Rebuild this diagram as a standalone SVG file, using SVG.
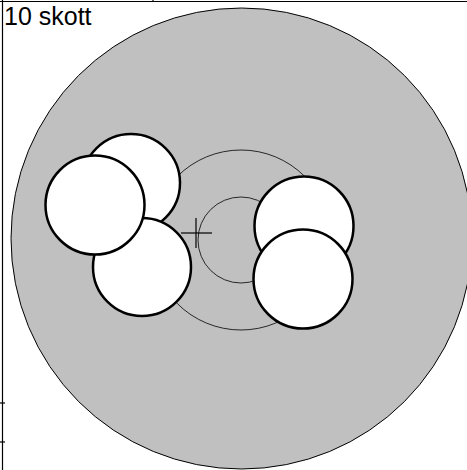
<svg xmlns="http://www.w3.org/2000/svg" width="467" height="470" viewBox="0 0 467 470">
<style>
.frame{stroke:#000;stroke-width:1.2;fill:none}
.ring{fill:none;stroke:#000;stroke-width:0.8}
.shot{fill:#fff;stroke:#000;stroke-width:2.5}
.label{font-family:"Liberation Sans",Arial,sans-serif;font-size:25px;fill:#000}
</style>
<rect width="467" height="470" fill="#fff"/>
<g id="frame">
<line class="frame" x1="0" y1="1.5" x2="467" y2="1.5"/>
<line class="frame" x1="2.5" y1="0" x2="2.5" y2="470"/>
<line class="frame" x1="0" y1="403" x2="5" y2="403"/>
<line class="frame" x1="0" y1="442" x2="5" y2="442"/>
<line class="frame" x1="153" y1="0" x2="153" y2="2"/>
</g>
<g id="target">
<circle cx="241.5" cy="238.5" r="230.5" fill="#c0c0c0" stroke="#000" stroke-width="1"/>
<circle class="ring" cx="241" cy="240" r="90"/>
<circle class="ring" cx="241" cy="240" r="43"/>
</g>
<g id="cross">
<line x1="181" y1="233" x2="212" y2="233" stroke="#000" stroke-width="1.2"/>
<line x1="196" y1="218" x2="196" y2="248" stroke="#000" stroke-width="1.2"/>
</g>
<g id="shots">
<circle class="shot" cx="131" cy="183" r="49"/>
<circle class="shot" cx="142" cy="267" r="49"/>
<circle class="shot" cx="95" cy="205" r="49.5"/>
<circle class="shot" cx="304" cy="226" r="49.5"/>
<circle class="shot" cx="303" cy="279" r="49.5"/>
</g>
<text class="label" x="4" y="25">10 skott</text>
</svg>
